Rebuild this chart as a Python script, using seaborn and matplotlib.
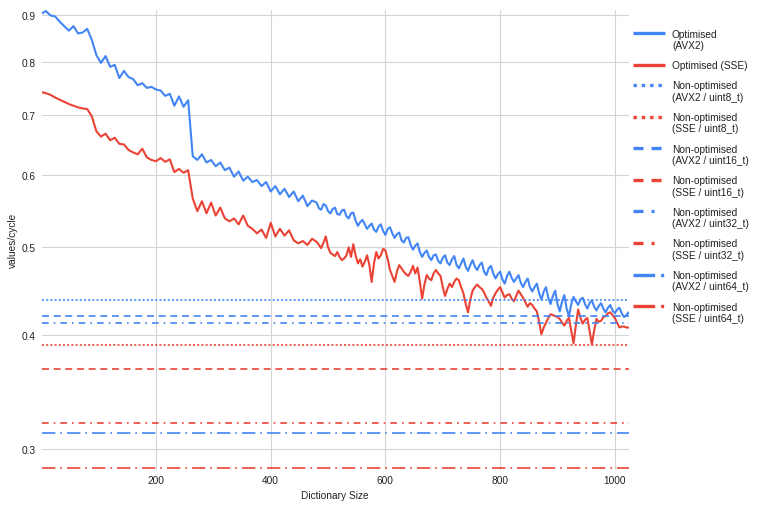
import matplotlib
matplotlib.use("Agg")
import matplotlib.pyplot as plt
import seaborn as sns
import pandas as pd
from matplotlib.lines import Line2D
from matplotlib.ticker import FixedLocator, FixedFormatter, NullLocator

# ---------------- data ----------------
# sampled every 8 up to 472, every 4 from 480 on
dict_sizes = [1] + list(range(8, 480, 8)) + list(range(480, 1025, 4))

opt_avx2 = [
    0.905, 0.910, 0.900, 0.898, 0.886, 0.876, 0.866, 0.876,
    0.860, 0.862, 0.870, 0.846, 0.814, 0.798, 0.812, 0.790,
    0.794, 0.768, 0.782, 0.770, 0.766, 0.754, 0.758, 0.749,
    0.751, 0.746, 0.744, 0.734, 0.738, 0.716, 0.733, 0.714,
    0.726, 0.630, 0.624, 0.633, 0.620, 0.624, 0.614, 0.620,
    0.608, 0.612, 0.598, 0.606, 0.592, 0.598, 0.590, 0.593,
    0.584, 0.590, 0.576, 0.584, 0.572, 0.580, 0.568, 0.576,
    0.562, 0.570, 0.555, 0.563,
    # step 4 from 480
    0.560, 0.552, 0.550, 0.558, 0.556, 0.548, 0.545, 0.551,
    0.553, 0.544, 0.543, 0.549, 0.550, 0.541, 0.538, 0.545,
    0.546, 0.535, 0.528, 0.533, 0.536, 0.530, 0.524, 0.528,
    0.531, 0.523, 0.520, 0.527, 0.530, 0.521, 0.516, 0.524,
    0.526, 0.518, 0.512, 0.517, 0.519, 0.509, 0.506, 0.512,
    0.513, 0.503, 0.497, 0.502, 0.505, 0.494, 0.488, 0.493,
    0.496, 0.488, 0.484, 0.490, 0.491, 0.483, 0.480, 0.487,
    0.490, 0.481, 0.478, 0.485, 0.489, 0.478, 0.474, 0.480,
    0.486, 0.476, 0.471, 0.478, 0.484, 0.476, 0.472, 0.478,
    0.481, 0.470, 0.466, 0.474, 0.477, 0.468, 0.462, 0.467,
    0.470, 0.461, 0.456, 0.465, 0.470, 0.463, 0.458, 0.462,
    0.466, 0.457, 0.452, 0.458, 0.462, 0.452, 0.447, 0.452,
    0.456, 0.445, 0.438, 0.447, 0.452, 0.440, 0.433, 0.442,
    0.448, 0.433, 0.425, 0.436, 0.443, 0.428, 0.420, 0.433,
    0.441, 0.436, 0.432, 0.438, 0.440, 0.433, 0.428, 0.434,
    0.437, 0.430, 0.426, 0.431, 0.434, 0.428, 0.424, 0.429,
    0.432, 0.426, 0.423, 0.427, 0.429, 0.423, 0.419, 0.421,
    0.424,
]

opt_sse = [
    0.741, 0.739, 0.736, 0.731, 0.727, 0.723, 0.719, 0.716,
    0.713, 0.711, 0.710, 0.697, 0.671, 0.662, 0.667, 0.656,
    0.660, 0.650, 0.649, 0.640, 0.636, 0.633, 0.642, 0.628,
    0.624, 0.622, 0.627, 0.621, 0.625, 0.605, 0.610, 0.604,
    0.608, 0.566, 0.548, 0.562, 0.545, 0.560, 0.542, 0.553,
    0.538, 0.534, 0.538, 0.530, 0.542, 0.528, 0.524, 0.518,
    0.523, 0.512, 0.532, 0.514, 0.524, 0.515, 0.522, 0.509,
    0.505, 0.508, 0.503, 0.511,
    # step 4 from 480
    0.507, 0.503, 0.499, 0.506, 0.514, 0.500, 0.493, 0.491,
    0.489, 0.494, 0.488, 0.484, 0.486, 0.490, 0.500, 0.488,
    0.504, 0.490, 0.480, 0.485, 0.476, 0.482, 0.490, 0.478,
    0.458, 0.480, 0.494, 0.486, 0.490, 0.498, 0.496, 0.485,
    0.472, 0.465, 0.458, 0.470, 0.478, 0.474, 0.470, 0.467,
    0.465, 0.470, 0.477, 0.468, 0.475, 0.458, 0.439, 0.455,
    0.466, 0.462, 0.460, 0.468, 0.472, 0.468, 0.465, 0.452,
    0.442, 0.450, 0.456, 0.452, 0.458, 0.462, 0.460, 0.452,
    0.445, 0.433, 0.424, 0.438, 0.448, 0.452, 0.455, 0.452,
    0.450, 0.446, 0.440, 0.436, 0.431, 0.440, 0.445, 0.449,
    0.452, 0.446, 0.440, 0.443, 0.444, 0.439, 0.436, 0.442,
    0.448, 0.444, 0.440, 0.435, 0.430, 0.434, 0.432, 0.428,
    0.425, 0.414, 0.401, 0.408, 0.413, 0.418, 0.422, 0.421,
    0.420, 0.419, 0.417, 0.413, 0.410, 0.415, 0.418, 0.405,
    0.392, 0.410, 0.427, 0.418, 0.412, 0.416, 0.418, 0.404,
    0.391, 0.405, 0.417, 0.414, 0.415, 0.419, 0.420, 0.423,
    0.424, 0.421, 0.418, 0.413, 0.408, 0.409, 0.409, 0.408,
    0.408,
]

series_labels = [
    "Optimised\n(AVX2)",
    "Optimised (SSE)",
    "Non-optimised\n(AVX2 / uint8_t)",
    "Non-optimised\n(SSE / uint8_t)",
    "Non-optimised\n(AVX2 / uint16_t)",
    "Non-optimised\n(SSE / uint16_t)",
    "Non-optimised\n(AVX2 / uint32_t)",
    "Non-optimised\n(SSE / uint32_t)",
    "Non-optimised\n(AVX2 / uint64_t)",
    "Non-optimised\n(SSE / uint64_t)",
]
# constant (non-optimised) series, in legend order
nonopt_values = [0.438, 0.390, 0.420, 0.367, 0.413, 0.3205, 0.3119, 0.2855]

y_ticks = [0.3, 0.4, 0.5, 0.6, 0.7, 0.8, 0.9]
y_tick_labels = ["0.3", "0.4", "0.5", "0.6", "0.7", "0.8", "0.9"]
x_ticks = [200, 400, 600, 800, 1000]
x_tick_labels = ["200", "400", "600", "800", "1000"]

# ---------------- style ----------------
BLUE = "#4285F4"
RED = "#EA4335"
TXT = "#222222"
FS = 7.3
colors = [BLUE, RED] * 5

sns.set_theme(style="white")
plt.rcParams["font.family"] = ["Liberation Sans", "DejaVu Sans"]
plt.rcParams["lines.scale_dashes"] = False

W_PX, H_PX = 762, 510
fig = plt.figure(figsize=(W_PX / 100, H_PX / 100), dpi=100)
L, R, T, B = 41.9, 628.6, 10.7, 470.7
ax = fig.add_axes([L / W_PX, 1 - B / H_PX, (R - L) / W_PX, (B - T) / H_PX])

df = pd.DataFrame({
    "size": dict_sizes * 2,
    "value": opt_avx2 + opt_sse,
    "series": [series_labels[0]] * len(dict_sizes) + [series_labels[1]] * len(dict_sizes),
})
sns.lineplot(data=df, x="size", y="value", hue="series", palette=[BLUE, RED],
             linewidth=1.5, ax=ax, legend=False, estimator=None, sort=False)

plot_dashes = {
    "dot": (0, (1.44, 1.58)),
    "dash": (0, (5.0, 3.4)),
    "dashdot": (0, (4.8, 3.6, 1.2, 3.6)),
    "longdashdot": (0, (9.6, 3.6, 1.2, 3.6)),
}
legend_dashes = {
    "solid": "-",
    "dot": (0, (2.4, 3.6)),
    "dash": (0, (7.2, 5.8)),
    "dashdot": (0, (7.2, 5.8, 2.2, 12)),
    "longdashdot": (0, (15.6, 4.3, 2.2, 10)),
}
kinds = ["solid", "solid", "dot", "dot", "dash", "dash",
         "dashdot", "dashdot", "longdashdot", "longdashdot"]

for i, v in enumerate(nonopt_values):
    k = kinds[i + 2]
    ax.axhline(v, color=colors[i + 2], linewidth=1.2, linestyle=plot_dashes[k], zorder=3)

ax.set_yscale("log")
ax.set_xlim(1, 1024)
ax.set_ylim(0.2845, 0.9133)
ax.yaxis.set_major_locator(FixedLocator(y_ticks))
ax.yaxis.set_major_formatter(FixedFormatter(y_tick_labels))
ax.yaxis.set_minor_locator(NullLocator())
ax.xaxis.set_major_locator(FixedLocator(x_ticks))
ax.xaxis.set_major_formatter(FixedFormatter(x_tick_labels))
ax.xaxis.set_minor_locator(NullLocator())
ax.tick_params(axis="both", length=0, labelsize=FS, labelcolor=TXT)
ax.tick_params(axis="y", pad=4.3)
ax.tick_params(axis="x", pad=4.0)
ax.grid(True, color="#d4d4d4", linewidth=0.8)
ax.set_axisbelow(True)
for s in ax.spines.values():
    s.set_visible(False)

ax.set_xlabel("Dictionary Size", fontsize=FS, color=TXT, va="center")
ax.xaxis.set_label_coords(0.5, -(496 - B) / (B - T))
ax.set_ylabel("values/cycle", fontsize=FS, color=TXT, va="center")
ax.yaxis.set_label_coords((13.3 - L) / (R - L), 0.5)

# ---------------- legend (Google-charts style, handle aligned to first line) ----------------
def fx(px):
    return px / W_PX

def fy(py):
    return 1 - py / H_PX

y = 34.0
LINE_H, GAP = 11.3, 9.0
for i, lab in enumerate(series_labels):
    k = kinds[i]
    fig.add_artist(Line2D([fx(633), fx(665)], [fy(y), fy(y)], transform=fig.transFigure,
                          color=colors[i], linewidth=2.4, linestyle=legend_dashes[k],
                          solid_capstyle="butt", dash_capstyle="butt"))
    lines = lab.split("\n")
    for j, ln in enumerate(lines):
        fig.text(fx(672), fy(y + j * LINE_H + 3.6), ln, fontsize=FS, color=TXT,
                 ha="left", va="baseline")
    y += len(lines) * LINE_H + GAP

fig.savefig("out.png", dpi=100)
